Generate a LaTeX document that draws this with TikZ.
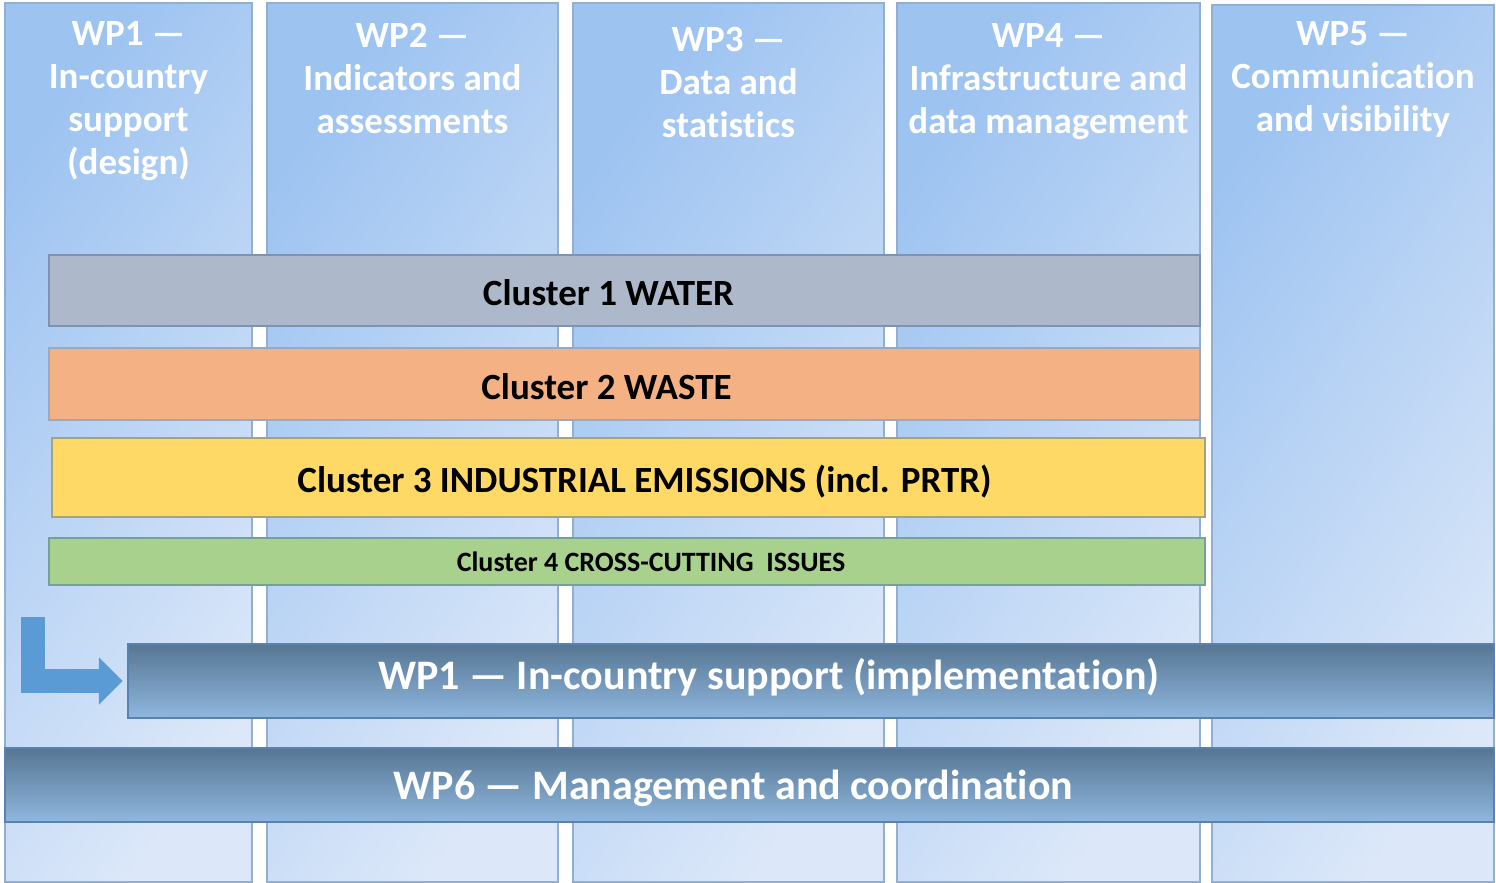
\documentclass[tikz,border=0pt]{standalone}
\usepackage{fontspec}
\setmainfont{Carlito}[Ligatures={TeX,NoCommon}]
\usetikzlibrary{arrows.meta,fit,positioning}
\definecolor{colDark}{HTML}{9DC3F1}
\definecolor{colLight}{HTML}{DCE8F9}
\definecolor{colEdge}{HTML}{93AFCF}
\definecolor{waterFill}{HTML}{ADB9CA}
\definecolor{waterEdge}{HTML}{7B93B5}
\definecolor{wasteFill}{HTML}{F4B183}
\definecolor{wasteEdge}{HTML}{9AA9BE}
\definecolor{emisFill}{HTML}{FFD966}
\definecolor{emisEdge}{HTML}{A4A37E}
\definecolor{crossFill}{HTML}{A9D18E}
\definecolor{crossEdge}{HTML}{75A297}
\definecolor{barTop}{HTML}{567693}
\definecolor{barBottom}{HTML}{90B7DF}
\definecolor{barEdge}{HTML}{5A82AE}
\definecolor{arrowFill}{HTML}{5B9BD5}

\begin{document}
\begin{tikzpicture}[x=0.5pt,y=-0.5pt,
    wpcol/.style={draw=colEdge,line width=1.2pt,inner sep=0pt,left color=colDark,right color=colLight,shading angle=55},
    head/.style={text=white,align=center,inner sep=0pt,anchor=north,font=\bfseries\fontsize{18.5}{21.5}\selectfont},
    cluster/.style 2 args={fill=#1,draw=#2,line width=1.2pt,inner sep=0pt},
    ctext/.style={text=black,inner sep=0pt,font=\bfseries\fontsize{18.5}{22}\selectfont},
    wpbar/.style={draw=barEdge,line width=1.2pt,inner sep=0pt,top color=barTop,bottom color=barBottom},
    bartext/.style={text=white,inner sep=0pt,font=\bfseries\fontsize{21}{25}\selectfont},
    bent/.style={draw=arrowFill,line width=12pt,line join=miter,-{Triangle[length=12pt,width=23pt]},shorten >=2pt}
  ]
  \useasboundingbox (0,0) rectangle (1496,883);

  % work package columns
  \node[wpcol,fit={(5,3) (252,882)}] (wp1) {};
  \node[wpcol,fit={(267,3) (558,882)}] (wp2) {};
  \node[wpcol,fit={(573,3) (884,882)}] (wp3) {};
  \node[wpcol,fit={(897,3) (1200,882)}] (wp4) {};
  \node[wpcol,fit={(1212,5) (1494,882)}] (wp5) {};

  \node[head] (h1) at ([yshift=-9.5pt]wp1.north) {WP1 ---\\In-country\\support\\(design)};
  \node[head] (h2) at ([yshift=-10.5pt]wp2.north) {WP2 ---\\Indicators and\\assessments};
  \node[head] (h3) at ([yshift=-12.5pt]wp3.north) {WP3 ---\\Data and\\statistics};
  \node[head] (h4) at ([yshift=-10.5pt]wp4.north) {WP4 ---\\Infrastructure and\\data management};
  \node[head] (h5) at ([yshift=-8.5pt]wp5.north) {WP5 ---\\Communication\\and visibility};

  % thematic clusters
  \node[cluster={waterFill}{waterEdge},fit={(49,255) (1200,326)},label={[ctext,xshift=-8pt,yshift=-1pt]center:Cluster 1 WATER}] (c1) {};
  \node[cluster={wasteFill}{wasteEdge},fit={(49,348) (1200,420)},label={[ctext,xshift=-9pt,yshift=-1.5pt]center:Cluster 2 WASTE}] (c2) {};
  \node[cluster={emisFill}{emisEdge},fit={(52,438) (1205,517)},label={[ctext,xshift=8pt,yshift=-2pt]center:Cluster 3 INDUSTRIAL EMISSIONS (incl. PRTR)}] (c3) {};
  \node[cluster={crossFill}{crossEdge},fit={(49,538) (1205,585)},label={[ctext,font=\bfseries\fontsize{14}{17}\selectfont,xshift=12pt]center:Cluster 4 CROSS-CUTTING\ \ ISSUES}] (c4) {};

  % cross-cutting bars
  \node[wpbar,fit={(128,644) (1494,718)},label={[bartext,xshift=-21pt,yshift=2pt]center:WP1 --- In-country support (implementation)}] (impl) {};
  \node[wpbar,fit={(5,748) (1494,822)},label={[bartext,xshift=-8pt,yshift=-1.5pt]center:WP6 --- Management and coordination}] (wp6) {};

  \coordinate (design) at (33,617);
  \draw[bent] (design) |- (impl.west);

\end{tikzpicture}
\end{document}
